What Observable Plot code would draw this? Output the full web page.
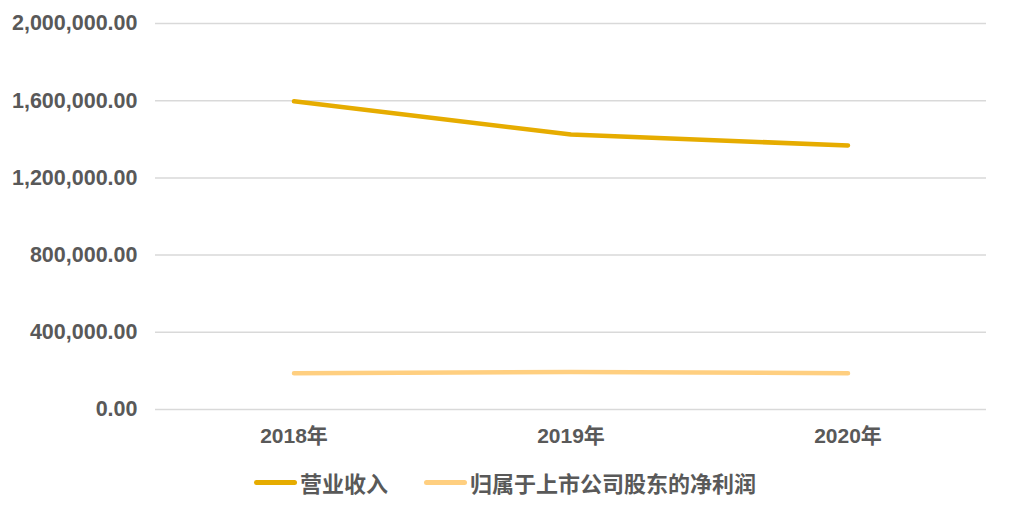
<!DOCTYPE html>
<html>
<head>
<meta charset="utf-8">
<script src="https://cdn.jsdelivr.net/npm/d3@7"></script>
<script src="https://cdn.jsdelivr.net/npm/@observablehq/plot@0.6"></script>
<style>
  body { margin: 0; background: #fff; font-family: "Liberation Sans", Arial, "Noto Sans CJK SC", sans-serif; }
  #chart svg { display: block; }
  .legend { display: flex; justify-content: center; align-items: center; height: 44px; width: 1010px; color: #595959; font-size: 22px; font-weight: bold; font-family: "Liberation Sans", Arial, "Noto Sans CJK SC", sans-serif; }
  .item { display: flex; align-items: center; }
  .sw { width: 43px; height: 5px; border-radius: 3px; margin-right: 3px; }
</style>
</head>
<body>
<div id="chart"></div>
<div class="legend" id="legend"></div>
<script>
const years = ["2018年", "2019年", "2020年"];
const seriesNames = ["营业收入", "归属于上市公司股东的净利润"];
const revenue = [1597000, 1424600, 1367700];
const netProfit = [187800, 194600, 188000];
const yTicks = [0, 400000, 800000, 1200000, 1600000, 2000000];
const colors = ["#E6AC00", "#FFCF80"];

const data = [];
years.forEach((y, i) => {
  data.push({year: y, series: seriesNames[0], value: revenue[i]});
  data.push({year: y, series: seriesNames[1], value: netProfit[i]});
});

const chart = Plot.plot({
  width: 1010,
  height: 460,
  marginTop: 23,
  marginBottom: 51,
  marginLeft: 155,
  marginRight: 24,
  style: {fontFamily: '"Liberation Sans", Arial, "Noto Sans CJK SC", sans-serif', fontSize: "21px", fontWeight: "bold", color: "#595959"},
  x: {type: "band", domain: years, label: null, padding: 0},
  y: {domain: [0, 2000000], ticks: yTicks, label: null, tickFormat: d3.format(",.2f")},
  color: {domain: seriesNames, range: colors},
  marks: [
    Plot.gridY(yTicks, {stroke: "#D9D9D9", strokeOpacity: 1, strokeWidth: 1.5}),
    Plot.axisY(yTicks, {tickSize: 0, tickPadding: 18, label: null, tickFormat: d3.format(",.2f"), fill: "#595959", fontSize: 21.5}),
    Plot.axisX({tickSize: 0, tickPadding: 19, label: null, fill: "#595959"}),
    Plot.lineY(data, {x: "year", y: "value", z: "series", stroke: "series", strokeWidth: 4.5, curve: "linear", strokeLinecap: "round", strokeLinejoin: "round"})
  ]
});
document.getElementById("chart").appendChild(chart);

const legend = document.getElementById("legend");
seriesNames.forEach((name, i) => {
  const item = document.createElement("div");
  item.className = "item";
  if (i > 0) item.style.marginLeft = "36px";
  const sw = document.createElement("div");
  sw.className = "sw";
  sw.style.background = colors[i];
  const t = document.createElement("span");
  t.textContent = name;
  item.appendChild(sw);
  item.appendChild(t);
  legend.appendChild(item);
});
</script>
</body>
</html>
